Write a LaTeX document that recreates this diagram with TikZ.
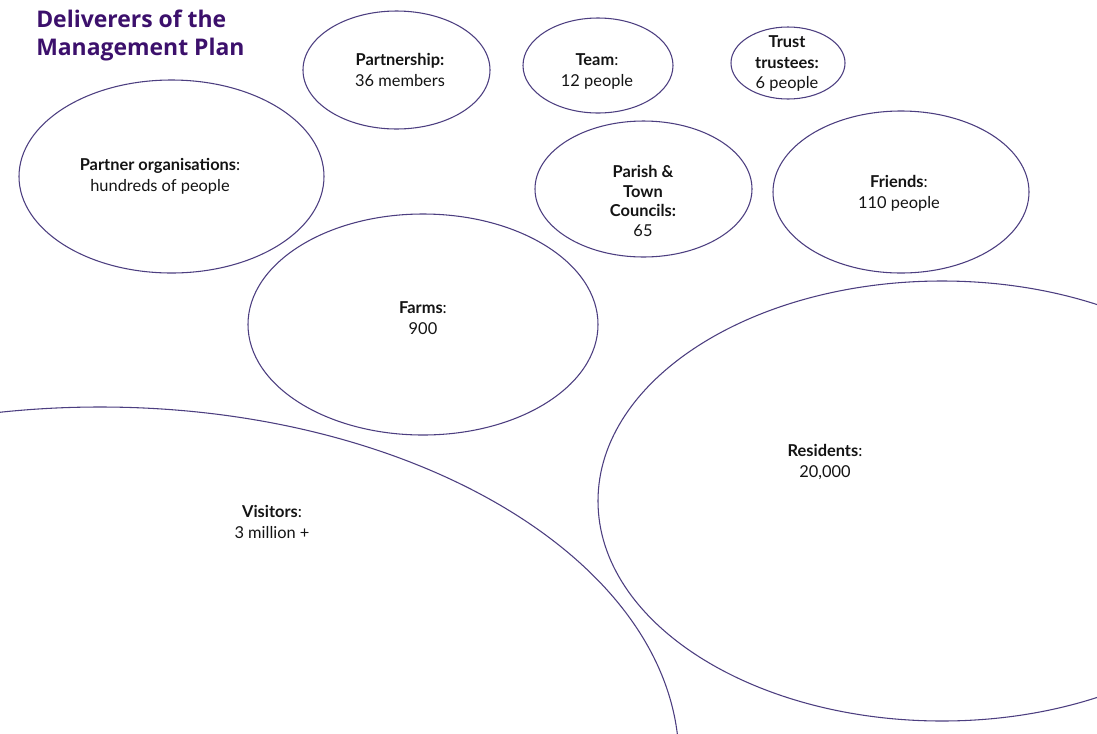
\documentclass[tikz,border=0pt]{standalone}
\usepackage{fontspec}
\setmainfont{Lato}
\newfontfamily\titlefont{Open Sans}
\usetikzlibrary{shapes.geometric}
\definecolor{linecol}{RGB}{76,62,128}
\definecolor{titlecol}{RGB}{60,16,108}
\definecolor{txtcol}{RGB}{20,20,20}
\begin{document}
\begin{tikzpicture}[x=0.75pt,y=-0.75pt,
  bubble/.style={draw=linecol, line width=0.8pt, ellipse, inner sep=0pt, outer sep=0pt},
  lbl/.style={align=center, font=\fontsize{12.3}{15.6}\selectfont, text=txtcol, inner sep=0pt},
  ttl/.style={anchor=base west, inner sep=0pt, text=titlecol, font=\titlefont\bfseries\fontsize{17.2}{21}\selectfont}]
\fill[white] (0,0) rectangle (1097,733);
\clip (0,0) rectangle (1097,733);
% title
\node[ttl] (title1) at (36,27) {Deliverers of the};
\node[ttl] (title2) at (36,55) {Management Plan};
% bubbles
\node[bubble, minimum width=140.25pt, minimum height=88.5pt] (partnership) at (396.5,70) {};
\node[bubble, minimum width=112.5pt, minimum height=71.25pt] (team) at (598,65.5) {};
\node[bubble, minimum width=85.5pt, minimum height=54pt] (trust) at (788,63) {};
\node[bubble, minimum width=228.75pt, minimum height=144.75pt] (partners) at (171.5,176.5) {};
\node[bubble, minimum width=162.75pt, minimum height=102pt] (parish) at (643.5,189) {};
\node[bubble, minimum width=192pt, minimum height=121.5pt] (friends) at (901,192) {};
\node[bubble, minimum width=262.5pt, minimum height=165.75pt] (farms) at (423,324.5) {};
\node[bubble, minimum width=868.5pt, minimum height=531pt] (visitors) at (100,761) {};
\node[bubble, minimum width=516pt, minimum height=330pt] (residents) at (942,501) {};
% labels
\node[lbl] (partnershipT) at (400,70) {\textbf{Partnership:}\\36 members};
\node[lbl] (teamT) at (597,71.5) {\textbf{Team}:\\12 people};
\node[lbl] (trustT) at (787,63.5) {\textbf{Trust}\\\textbf{trustees:}\\6 people};
\node[lbl] (partnersT) at (160,176) {\textbf{Partner organisations}:\\hundreds of people};
\node[lbl, font=\fontsize{12.3}{14.7}\selectfont] (parishT) at (643,201) {\textbf{Parish \&}\\\textbf{Town}\\\textbf{Councils:}\\65};
\node[lbl] (friendsT) at (899,193.5) {\textbf{Friends}:\\110 people};
\node[lbl] (farmsT) at (423,318.5) {\textbf{Farms}:\\900};
\node[lbl] (residentsT) at (825,462) {\textbf{Residents}:\\20,000};
\node[lbl] (visitorsT) at (272,522) {\textbf{Visitors}:\\3 million +};
\end{tikzpicture}
\end{document}
